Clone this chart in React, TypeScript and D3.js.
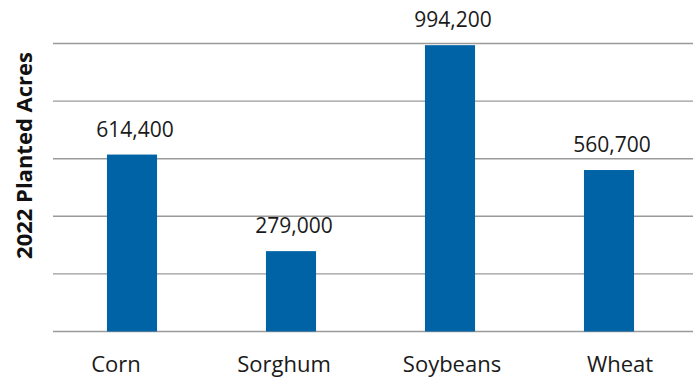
import React from "react";
import * as d3 from "d3";

const categories = ["Corn", "Sorghum", "Soybeans", "Wheat"];
const acres = [614400, 279000, 994200, 560700];
const gridTicks = [0, 200000, 400000, 600000, 800000, 1000000];
const yTitle = "2022 Planted Acres";

const W = 693;
const H = 377;

export default function App() {
  const x = d3.scaleBand<string>().domain(categories).range([52.5, 688.5]).paddingInner(0.685).paddingOuter(0.3425);
  const xLabel = d3.scaleBand<string>().domain(categories).range([32, 704]);
  const y = d3.scaleLinear().domain([0, 1000000]).range([331.5, 43.5]);
  const fmt = d3.format(",");
  const font = "'Open Sans', 'Noto Sans', sans-serif";
  return (
    <svg width={W} height={H} style={{ position: "absolute", left: 0, top: 0, background: "#fff" }}>
      {gridTicks.map((t) => (
        <line key={t} x1={53} x2={W} y1={y(t)} y2={y(t)} stroke="#9a9a9a" strokeWidth={1.4} />
      ))}
      {categories.map((c, i) => (
        <g key={c}>
          <rect x={x(c)} y={y(acres[i])} width={x.bandwidth()} height={y(0) - y(acres[i])} fill="#0063a6" />
          <text x={(x(c) as number) + x.bandwidth() / 2 + 3} y={y(acres[i]) - 18} textAnchor="middle" fontFamily={font} fontSize={21} fill="#1a1a1a">
            {fmt(acres[i])}
          </text>
          <text x={(xLabel(c) as number) + xLabel.bandwidth() / 2} y={372} textAnchor="middle" fontFamily={font} fontSize={22} fill="#1a1a1a">
            {c}
          </text>
        </g>
      ))}
      <text transform="translate(32,155.5) rotate(-90)" textAnchor="middle" fontFamily={font} fontWeight="bold" fontSize={22} fill="#111">
        {yTitle}
      </text>
    </svg>
  );
}
